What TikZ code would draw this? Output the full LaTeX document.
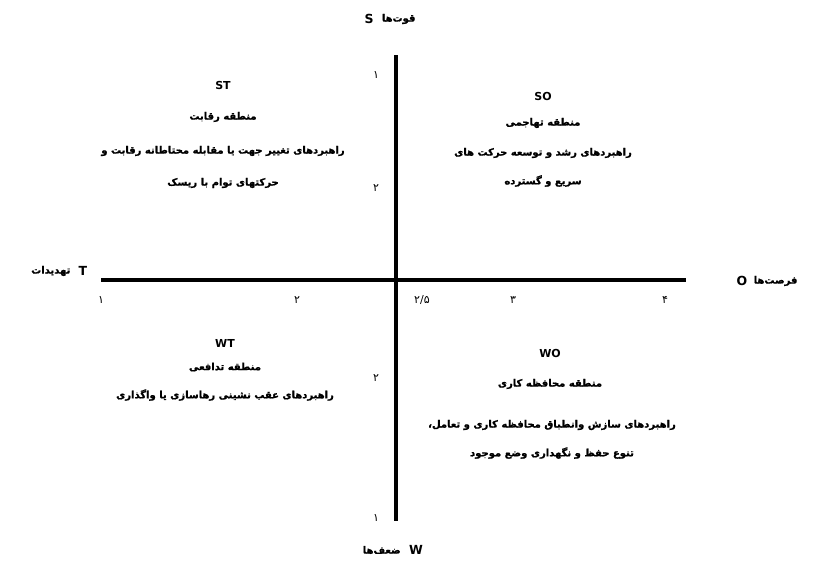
\documentclass[tikz,border=0pt]{standalone}
\usepackage{fontspec}
\setmainfont{DejaVu Sans}
\TeXXeTstate=1
\newfontfamily\fa[Script=Arabic, BoldFeatures={FakeBold=1.2}]{DejaVu Sans}
\newcommand{\rtl}[1]{\beginR #1\endR}
\begin{document}
\begin{tikzpicture}[x=1pt,y=-1pt,
  fatext/.style={font=\fa\bfseries\fontsize{10}{11}\selectfont, inner sep=0pt},
  code/.style={font=\bfseries\fontsize{11}{12}\selectfont, inner sep=0pt},
  axletter/.style={font=\bfseries\fontsize{12.5}{13}\selectfont, inner sep=0pt},
  tick/.style={font=\fa\fontsize{11}{12}\selectfont, inner sep=0pt},
  axis/.style={line width=4.5pt}]
\useasboundingbox (0,0) rectangle (813,566);
% axes
\coordinate (hl) at (101,280);
\coordinate (hr) at (686,280);
\coordinate (vt) at (396,55);
\coordinate (vb) at (396,521);
\draw[axis] (hl) -- (hr);
\draw[axis] (vt) -- (vb);
% axis labels
\node[axletter] (S) at (369,19) {S};
\node[fatext, anchor=west] (Sw) at ([xshift=8]S.east) {\rtl{قوت‌ها}};
\node[axletter] (W) at (416,550) {W};
\node[fatext, anchor=east] (Ww) at ([xshift=-8]W.west) {\rtl{ضعف‌ها}};
\node[axletter] (T) at (83,271) {T};
\node[fatext, anchor=east] (Tw) at ([xshift=-8]T.west) {\rtl{تهدیدات}};
\node[axletter] (O) at (742,281) {O};
\node[fatext, anchor=west] (Ow) at ([xshift=6]O.east) {\rtl{فرصت‌ها}};
% ticks horizontal
\node[tick] (h1) at (101,300) {۱};
\node[tick] (h2) at (297,300) {۲};
\node[tick] (h25) at (422,300) {۲/۵};
\node[tick] (h3) at (513,300) {۳};
\node[tick] (h4) at (665,300) {۴};
% ticks vertical
\node[tick] (v1) at (376,75) {۱};
\node[tick] (v2) at (376,188) {۲};
\node[tick] (v3) at (376,378) {۲};
\node[tick] (v4) at (376,518) {۱};
% ST
\node[code] (st) at (223,85) {ST};
\node[fatext] (st1) at (223,117) {\rtl{منطقه رقابت}};
\node[fatext] (st2) at (223,151) {\rtl{راهبردهای تغییر جهت یا مقابله محتاطانه رقابت و}};
\node[fatext] (st3) at (223,183) {\rtl{حرکتهای توام با ریسک}};
% SO
\node[code] (so) at (543,96) {SO};
\node[fatext] (so1) at (543,123) {\rtl{منطقه تهاجمی}};
\node[fatext] (so2) at (543,153) {\rtl{راهبردهای  رشد و توسعه حرکت های}};
\node[fatext] (so3) at (543,181) {\rtl{سریع و گسترده}};
% WT
\node[code] (wt) at (225,343) {WT};
\node[fatext] (wt1) at (225,367) {\rtl{منطقه تدافعی}};
\node[fatext] (wt2) at (225,395) {\rtl{راهبردهای عقب نشینی  رهاسازی یا واگذاری}};
% WO
\node[code] (wo) at (550,353) {WO};
\node[fatext] (wo1) at (550,384) {\rtl{منطقه  محافظه کاری}};
\node[fatext] (wo2) at (552,425) {\rtl{راهبردهای سازش وانطباق محافظه کاری و تعامل،}};
\node[fatext] (wo3) at (552,453) {\rtl{تنوع حفظ و نگهداری وضع موجود}};
\end{tikzpicture}
\end{document}
